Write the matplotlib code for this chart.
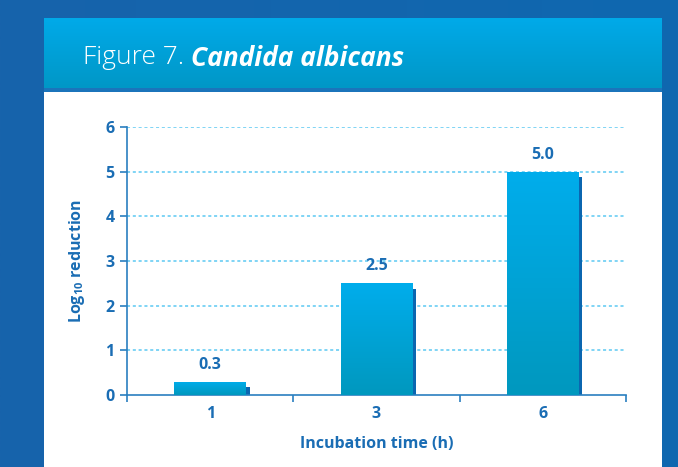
import numpy as np
import matplotlib
matplotlib.use("Agg")
import matplotlib.pyplot as plt
from matplotlib.patches import Rectangle
from matplotlib.colors import LinearSegmentedColormap

# chart data
categories = ["1", "3", "6"]
values = [0.3, 2.5, 5.0]
value_labels = ["0.3", "2.5", "5.0"]
y_ticks = [0, 1, 2, 3, 4, 5, 6]

BLUE_TXT = "#1a6db4"
AXIS = "#2a7fc0"
GRID = "#5cc9f2"
SHADOW = "#0b66b0"

plt.rcParams["font.family"] = ["Open Sans", "DejaVu Sans"]
plt.rcParams["mathtext.fontset"] = "custom"
plt.rcParams["mathtext.rm"] = "Open Sans:bold"
plt.rcParams["mathtext.bf"] = "Open Sans:bold"

fig = plt.figure(figsize=(6.78, 4.67), dpi=100)
W, H = 678, 467

def fbox(x0, y0, x1, y1):
    # pixel box (top-left origin) -> figure fraction [l, b, w, h]
    return [x0 / W, 1 - y1 / H, (x1 - x0) / W, (y1 - y0) / H]

# background
bg = fig.add_axes([0, 0, 1, 1])
bg.imshow(np.linspace(0, 1, 256).reshape(1, -1),
          cmap=LinearSegmentedColormap.from_list("bg", ["#1763ab", "#0f68b0"]),
          aspect="auto", extent=[0, 1, 0, 1])
bg.set_axis_off()

# header band
hd = fig.add_axes(fbox(44, 18, 662, 88))
hd.imshow(np.linspace(0, 1, 256).reshape(-1, 1),
          cmap=LinearSegmentedColormap.from_list("hd", ["#00aae9", "#0097c6"]),
          aspect="auto", extent=[0, 1, 0, 1])
hd.set_axis_off()
line_ax = fig.add_axes(fbox(44, 88, 662, 92))
line_ax.set_axis_off()
line_ax.add_patch(Rectangle((0, 0), 1, 1, color="#1b74bb", transform=line_ax.transAxes))

panel = fig.add_axes(fbox(44, 92, 662, 467))
panel.set_facecolor("white")
panel.set_xticks([])
panel.set_yticks([])
for s in panel.spines.values():
    s.set_visible(False)

t1 = fig.text(83 / W, 1 - 58 / H, "Figure 7. ", color="white", fontsize=19,
              fontweight="light", va="center", ha="left")
fig.canvas.draw()
bb = t1.get_window_extent()
fig.text(bb.x1 / W, 1 - 58 / H, "Candida albicans", color="white", fontsize=19,
         fontweight="bold", fontstyle="italic", va="center", ha="left")

# main chart
ax = fig.add_axes(fbox(127, 127, 626, 395))
ax.set_facecolor("none")
x = np.arange(len(categories))
bw = 0.43

for yv in y_ticks[1:]:
    ax.axhline(yv, color=GRID, lw=1.1, ls=(0, (2, 1.8)), zorder=1)

grad = LinearSegmentedColormap.from_list("bar", ["#0098be", "#00adec"])
gimg = np.linspace(0, 1, 256).reshape(-1, 1)
for xi, v in zip(x, values):
    ax.add_patch(Rectangle((xi + bw / 2 - 0.005, 0), 0.028, v - 0.13,
                           color=SHADOW, zorder=2, lw=0))
    bar = ax.bar(xi, v, width=bw, color="#00a5dd", zorder=3, lw=0)[0]
    im = ax.imshow(gimg, cmap=grad, origin="lower", aspect="auto",
                   extent=[xi - bw / 2, xi + bw / 2, 0, v], zorder=4)
    im.set_clip_path(bar)
for xi, v, lab in zip(x, values, value_labels):
    ax.text(xi, v + 0.2, lab, ha="center", va="bottom", color=BLUE_TXT,
            fontsize=11.5, fontweight="bold")

ax.set_xlim(-0.5, len(categories) - 0.5)
ax.set_ylim(0, 6)
for s in ["top", "right"]:
    ax.spines[s].set_visible(False)
for s in ["left", "bottom"]:
    ax.spines[s].set_color(AXIS)
    ax.spines[s].set_linewidth(1.2)

ax.set_yticks(y_ticks)
ax.set_yticklabels([str(t) for t in y_ticks])
ax.set_xticks(x)
ax.set_xticklabels(categories)
ax.set_xticks(np.arange(-0.5, len(categories)), minor=True)
ax.tick_params(axis="x", which="major", length=0, pad=8)
ax.tick_params(axis="x", which="minor", length=5, width=1.2, color=AXIS, direction="out")
ax.tick_params(axis="y", length=5, width=1.2, color=AXIS, pad=4)
for lab in ax.get_xticklabels() + ax.get_yticklabels():
    lab.set_color(BLUE_TXT)
    lab.set_fontweight("bold")
    lab.set_fontsize(11.5)

ax.set_xlabel("Incubation time (h)", color=BLUE_TXT, fontsize=11.5,
              fontweight="bold", labelpad=10)
ax.set_ylabel("Log$_{10}$ reduction", color=BLUE_TXT, fontsize=11.5,
              fontweight="bold", labelpad=13)

fig.savefig("out.png", dpi=100)
